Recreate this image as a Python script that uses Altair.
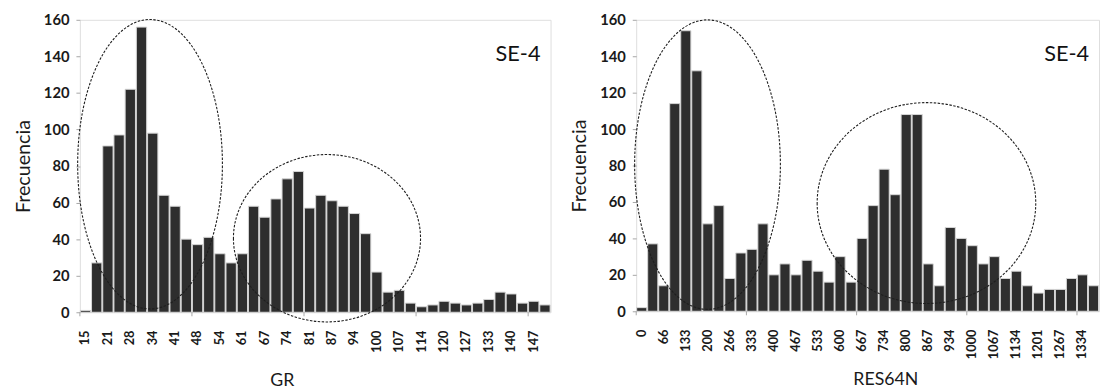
import altair as alt
import pandas as pd

FONT = "Lato"

# ---- Left panel (GR) ----
gr_bins = ["15", "18", "21", "24", "28", "31", "34", "38", "41", "44", "48", "51", "54", "57",
           "61", "64", "67", "71", "74", "77", "81", "84", "87", "90", "94", "97", "100", "104",
           "107", "110", "114", "117", "120", "123", "127", "130", "133", "137", "140", "143",
           "147", "150"]
gr_counts = [1, 27, 91, 97, 122, 156, 98, 64, 58, 40, 37, 41, 32, 27, 32, 58, 52, 62, 73, 77,
             57, 64, 61, 58, 54, 43, 22, 11, 12, 5, 3, 4, 6, 5, 4, 5, 7, 11, 10, 5, 6, 4]
gr_tick_labels = ["15", "21", "28", "34", "41", "48", "54", "61", "67", "74", "81", "87", "94",
                  "100", "107", "114", "120", "127", "133", "140", "147"]

# ---- Right panel (RES64N) ----
res_bins = ["0", "33", "66", "100", "133", "166", "200", "233", "266", "300", "333", "366",
            "400", "433", "467", "500", "533", "567", "600", "633", "667", "700", "734", "767",
            "800", "834", "867", "900", "934", "967", "1000", "1034", "1067", "1101", "1134",
            "1167", "1201", "1234", "1267", "1301", "1334", "1367"]
res_counts = [2, 37, 14, 114, 154, 132, 48, 58, 18, 32, 34, 48, 20, 26, 20, 28, 22, 16, 30, 16,
              40, 58, 78, 64, 108, 108, 26, 14, 46, 40, 36, 26, 30, 18, 22, 14, 10, 12, 12, 18,
              20, 14]
res_tick_labels = ["0", "66", "133", "200", "266", "333", "400", "467", "533", "600", "667",
                   "734", "800", "867", "934", "1000", "1067", "1134", "1201", "1267", "1334"]

y_ticks = [0, 20, 40, 60, 80, 100, 120, 140, 160]
major_tick_every = 10  # x-axis major ticks every 10 bins (between bins)

# Dashed ellipse annotations: center (bin position, frequency), radii in px
gr_ellipses = [(5.76, 81, 73.5, 147), (21.55, 40.5, 95, 85)]
res_ellipses = [(5.97, 80.5, 74, 147), (25.84, 59.4, 111, 102)]

panel_label = "SE-4"
label_pos = (40.6, 141)


def ellipse_path(rx, ry):
    m = max(rx, ry)
    a, b = rx / m, ry / m
    return (f"M {-a:.4f} 0 A {a:.4f} {b:.4f} 0 1 0 {a:.4f} 0 "
            f"A {a:.4f} {b:.4f} 0 1 0 {-a:.4f} 0 Z"), (2 * m) ** 2


def panel(bins, counts, ticks, xtitle, ellipses, width, height, title_x):
    n = len(bins)
    df = pd.DataFrame({"bin": bins, "count": counts})
    bars = alt.Chart(df).mark_bar(color="#2e2e2e", stroke="#d6d6d6", strokeWidth=1).encode(
        x=alt.X("bin:N", sort=bins,
                scale=alt.Scale(paddingInner=0.08, paddingOuter=0.04),
                axis=alt.Axis(values=ticks, labelAngle=-90, ticks=False, domain=False,
                              grid=False,
                              labelFont=FONT, labelFontSize=13, labelFontWeight="bold",
                              labelColor="#1a1a1a", labelPadding=18, labelOverlap=False,
                              titleFont=FONT, titleFontSize=18, titleFontWeight="normal",
                              titleColor="#1a1a1a", titleX=title_x, titleY=74,
                              titleBaseline="alphabetic"),
                title=xtitle),
        y=alt.Y("count:Q", scale=alt.Scale(domain=[0, 160], nice=False),
                axis=alt.Axis(values=y_ticks, domain=False, grid=False, tickSize=4,
                              tickColor="#a6a6a6", labelOverlap=False,
                              labelFont=FONT, labelFontSize=15, labelFontWeight="bold",
                              labelColor="#1a1a1a", labelPadding=7,
                              titleFont=FONT, titleFontSize=20, titleFontWeight="normal",
                              titleColor="#1a1a1a", titlePadding=10),
                title="Frecuencia"),
    )
    xq = alt.Scale(domain=[-0.5, n - 0.5], nice=False, zero=False)
    yq = alt.Scale(domain=[0, 160], nice=False)
    layers = [bars]
    # x-axis major tick marks (between bins, every 10 bins)
    tick_pos = [i - 0.5 for i in range(0, n, major_tick_every)]
    tdf_ticks = pd.DataFrame({"pos": tick_pos, "y0": [0] * len(tick_pos),
                              "y1": [-2.2] * len(tick_pos)})
    layers.append(
        alt.Chart(tdf_ticks).mark_rule(color="#a6a6a6", strokeWidth=1, clip=False).encode(
            x=alt.X("pos:Q", scale=xq, axis=None),
            y=alt.Y("y0:Q", scale=yq, axis=None),
            y2="y1:Q",
        )
    )
    for cx, cy, rx, ry in ellipses:
        path, size = ellipse_path(rx, ry)
        edf = pd.DataFrame({"pos": [cx], "count": [cy]})
        layers.append(
            alt.Chart(edf).mark_point(shape=path, size=size, filled=False, color="#1e1e1e",
                                      strokeWidth=1.1, strokeDash=[2.5, 1.5], opacity=1).encode(
                x=alt.X("pos:Q", scale=xq, axis=None),
                y=alt.Y("count:Q", scale=yq, axis=None),
            )
        )
    tdf = pd.DataFrame({"pos": [label_pos[0]], "count": [label_pos[1]], "t": [panel_label]})
    layers.append(
        alt.Chart(tdf).mark_text(align="right", baseline="middle", font=FONT, fontSize=22,
                                 color="#111111").encode(
            x=alt.X("pos:Q", scale=xq, axis=None),
            y=alt.Y("count:Q", scale=yq, axis=None),
            text="t:N",
        )
    )
    return alt.layer(*layers).resolve_scale(x="independent", y="independent").properties(
        width=width, height=height)


left = panel(gr_bins, gr_counts, gr_tick_labels, "GR", gr_ellipses, 478, 297, 205)
right = panel(res_bins, res_counts, res_tick_labels, "RES64N", res_ellipses, 470, 296, 253)

chart = alt.hconcat(left, right, spacing=18).properties(
    padding={"left": 5, "top": 1, "right": 0, "bottom": 0}
).configure_view(stroke="#a6a6a6", strokeWidth=1).configure(background="white")

chart.save("out.html", embed_options={"renderer": "svg", "actions": False})
